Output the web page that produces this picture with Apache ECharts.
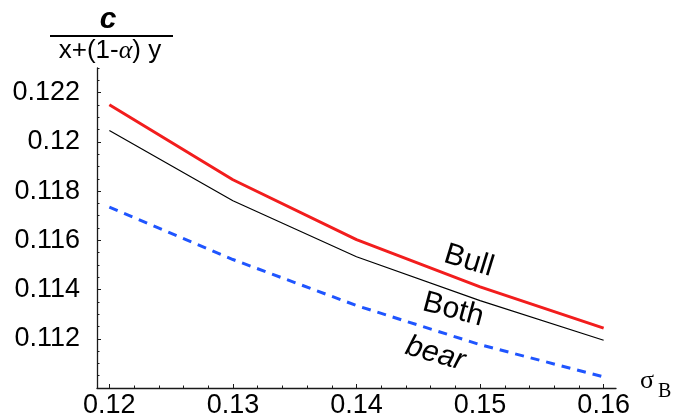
<!DOCTYPE html>
<html>
<head>
<meta charset="utf-8">
<script src="https://cdn.jsdelivr.net/npm/echarts@6/dist/echarts.min.js"></script>
<style>
  html, body { margin: 0; padding: 0; background: #ffffff; }
  #chart { width: 676px; height: 419px; }
</style>
</head>
<body>
<div id="chart"></div>
<script>
// sigma_B values on the horizontal axis
const sigmaB = [0.12, 0.13, 0.14, 0.15, 0.16];
// c / (x + (1 - alpha) y) for the three cases
const bullValues = [0.12151, 0.11846, 0.11603, 0.11411, 0.11243];
const bothValues = [0.12046, 0.11761, 0.11533, 0.11355, 0.11194];
const bearValues = [0.11735, 0.11522, 0.11335, 0.11176, 0.11045];

// axis ticks
const xTickLabels = [0.12, 0.13, 0.14, 0.15, 0.16];
const yTickLabels = [0.112, 0.114, 0.116, 0.118, 0.12, 0.122];
const xRange = [0.119, 0.161];
const yRange = [0.110, 0.123];

function steps(from, to, step) {
  const out = [];
  const n = Math.round((to - from) / step);
  for (let i = 0; i <= n; i++) out.push(+(from + i * step).toFixed(6));
  return out;
}
const xMinorTicks = steps(0.12, 0.16, 0.002);
const yMinorTicks = steps(0.110, 0.123, 0.0005);

const pairs = (xs, ys) => xs.map((x, i) => [x, ys[i]]);

const FONT = '"Liberation Sans", Arial, sans-serif';
const SERIF = '"Liberation Serif", "Times New Roman", serif';
const AXIS_COLOR = '#1a1a1a';

const chart = echarts.init(document.getElementById('chart'), null, { renderer: 'canvas' });

const option = {
  backgroundColor: '#ffffff',
  animation: false,
  grid: { left: 97, right: 60, top: 68, bottom: 31, containLabel: false },
  xAxis: [
    {
      type: 'value', min: xRange[0], max: xRange[1], position: 'bottom',
      axisLine: { show: true, lineStyle: { color: AXIS_COLOR, width: 1.3 } },
      axisTick: { show: true, inside: true, length: 4, customValues: xTickLabels,
                  lineStyle: { color: AXIS_COLOR, width: 1 } },
      axisLabel: { show: true, customValues: xTickLabels, margin: 4,
                   fontFamily: FONT, fontSize: 27, color: '#000' },
      splitLine: { show: false }
    },
    {
      type: 'value', min: xRange[0], max: xRange[1], position: 'bottom',
      axisLine: { show: false },
      axisTick: { show: true, inside: true, length: 2.5, customValues: xMinorTicks,
                  lineStyle: { color: AXIS_COLOR, width: 1 } },
      axisLabel: { show: false },
      splitLine: { show: false }
    }
  ],
  yAxis: [
    {
      type: 'value', min: yRange[0], max: yRange[1], position: 'left',
      axisLine: { show: true, lineStyle: { color: AXIS_COLOR, width: 1.3 } },
      axisTick: { show: true, inside: true, length: 4, customValues: yTickLabels,
                  lineStyle: { color: AXIS_COLOR, width: 1 } },
      axisLabel: { show: true, customValues: yTickLabels, margin: 17,
                   fontFamily: FONT, fontSize: 27, color: '#000' },
      splitLine: { show: false }
    },
    {
      type: 'value', min: yRange[0], max: yRange[1], position: 'left',
      axisLine: { show: false },
      axisTick: { show: true, inside: true, length: 2.5, customValues: yMinorTicks,
                  lineStyle: { color: AXIS_COLOR, width: 1 } },
      axisLabel: { show: false },
      splitLine: { show: false }
    }
  ],
  series: [
    {
      name: 'Bull', type: 'line', data: pairs(sigmaB, bullValues),
      showSymbol: false, smooth: false, z: 3,
      lineStyle: { color: '#f21d1d', width: 3 }
    },
    {
      name: 'Both', type: 'line', data: pairs(sigmaB, bothValues),
      showSymbol: false, smooth: false, z: 2,
      lineStyle: { color: '#000000', width: 1.2 }
    },
    {
      name: 'bear', type: 'line', data: pairs(sigmaB, bearValues),
      showSymbol: false, smooth: false, z: 2,
      lineStyle: { color: '#1f55ff', width: 3, type: [9, 7] }
    }
  ]
};
chart.setOption(option);

// curve captions anchored in data space
const captions = [
  { text: 'Bull', at: [0.1491, 0.11516], angle: -17, italic: false },
  { text: 'Both', at: [0.14783, 0.11318], angle: -15, italic: false },
  { text: 'bear', at: [0.14637, 0.11139], angle: -16, italic: true }
];

const graphics = captions.map(c => {
  const p = chart.convertToPixel({ xAxisIndex: 0, yAxisIndex: 0 }, c.at);
  return {
    type: 'text', x: p[0], y: p[1], rotation: c.angle * Math.PI / 180,
    style: {
      text: c.text, fill: '#000',
      font: (c.italic ? 'italic ' : '') + '30px ' + FONT,
      align: 'center', verticalAlign: 'middle'
    }
  };
});

// vertical axis name: c / (x + (1 - alpha) y)
graphics.push(
  { type: 'text', x: 108, y: 20,
    style: { text: 'c', fill: '#000', font: 'italic bold 30px ' + FONT,
             align: 'center', verticalAlign: 'middle' } },
  { type: 'line', shape: { x1: 50, y1: 36, x2: 173, y2: 36 },
    style: { stroke: '#000', lineWidth: 2 } },
  { type: 'text', x: 110, y: 51,
    style: { text: 'x+(1-{a|α}) y', fill: '#000', font: '26px ' + FONT,
             align: 'center', verticalAlign: 'middle',
             rich: { a: { fontFamily: SERIF, fontStyle: 'italic', fontSize: 26, fill: '#000' } } } }
);

// horizontal axis name: sigma_B
graphics.push(
  { type: 'text', x: 640, y: 381,
    style: { text: 'σ', fill: '#000', font: '26px ' + SERIF,
             align: 'left', verticalAlign: 'middle' } },
  { type: 'text', x: 658, y: 392,
    style: { text: 'B', fill: '#000', font: '20px ' + SERIF,
             align: 'left', verticalAlign: 'middle' } }
);

chart.setOption({ graphic: graphics });
</script>
</body>
</html>
